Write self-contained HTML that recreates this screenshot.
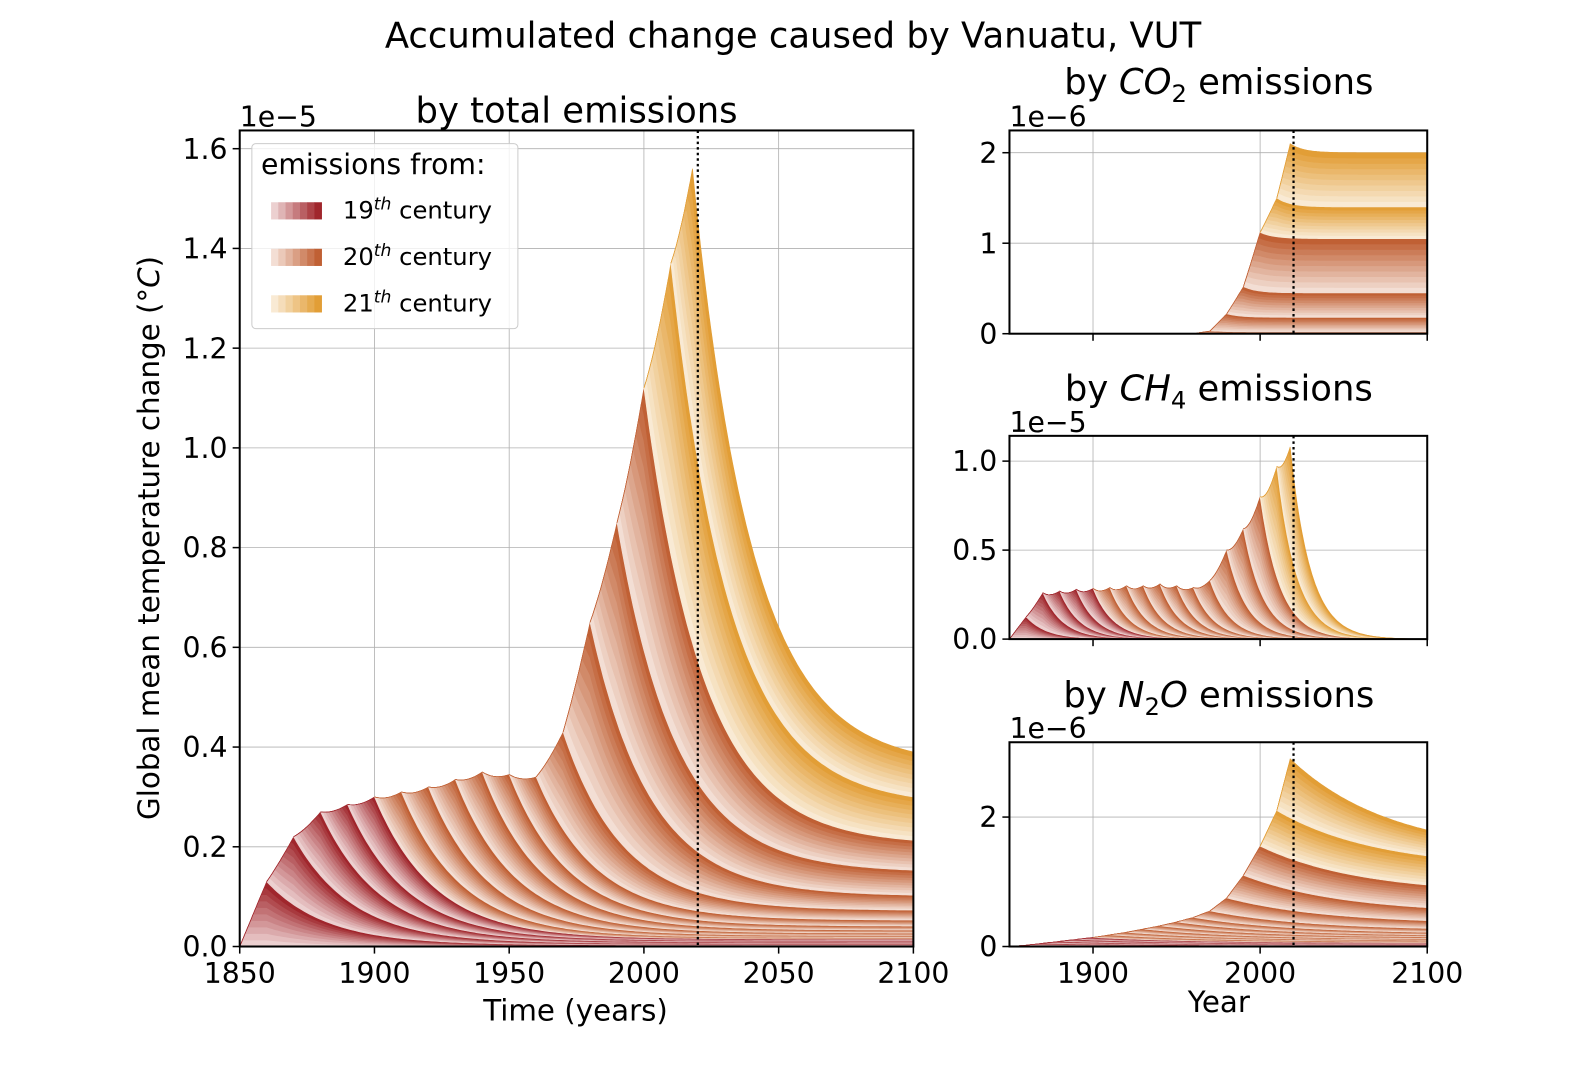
<!DOCTYPE html>
<html><head><meta charset="utf-8"><style>
html,body{margin:0;padding:0;background:#fff;overflow:hidden;width:1584px;height:1080px}
svg{display:block}
svg text{font-family:"DejaVu Sans","Liberation Sans",sans-serif;fill:#000}
</style></head><body>
<svg id="fig" width="1584" height="1080" viewBox="0 0 1566 1068" preserveAspectRatio="none" xmlns="http://www.w3.org/2000/svg">
<rect width="1584" height="1080" fill="#fff"/>
<text x="784" y="47" font-size="35" text-anchor="middle">Accumulated change caused by Vanuatu, VUT</text>
<text x="570" y="121" font-size="35" text-anchor="middle">by total emissions</text>
<text x="1205" y="93" font-size="35" text-anchor="middle">by <tspan font-style="italic">CO</tspan><tspan font-size="24" dy="8">2</tspan><tspan dy="-8"> emissions</tspan></text>
<text x="1205" y="396" font-size="35" text-anchor="middle">by <tspan font-style="italic">CH</tspan><tspan font-size="24" dy="8">4</tspan><tspan dy="-8"> emissions</tspan></text>
<text x="1205" y="699" font-size="35" text-anchor="middle">by <tspan font-style="italic">N</tspan><tspan font-size="24" dy="8">2</tspan><tspan dy="-8" font-style="italic">O</tspan> emissions</text>
<text transform="translate(157,532) rotate(-90)" font-size="29" text-anchor="middle">Global mean temperature change (°<tspan font-style="italic">C</tspan>)</text>
<text x="569" y="1009" font-size="29" text-anchor="middle">Time (years)</text>
<text x="1205" y="1001" font-size="29" text-anchor="middle">Year</text>
<g id="panels"></g>
<g id="legend"></g>
</svg>
<script>
// ---- data ----
const mainStarts=[1850,1860,1870,1880,1890,1900,1910,1920,1930,1940,1950,1960,1970,1980,1990,2000,2010];
const mainEnds=[1860,1870,1880,1890,1900,1910,1920,1930,1940,1950,1960,1970,1980,1990,2000,2010,2018];
const mainRidge=[0.13,0.22,0.27,0.285,0.30,0.31,0.32,0.335,0.35,0.345,0.34,0.43,0.65,0.85,1.12,1.37,1.56];
const mainTail=[0.003,0.006,0.009,0.012,0.015,0.018,0.022,0.027,0.033,0.041,0.053,0.073,0.103,0.153,0.213,0.30,0.39];
const co2Starts=[1960,1970,1980,1990,2000,2010];
const co2Ends=[1970,1980,1990,2000,2010,2018];
const co2Ridge=[0.03,0.22,0.52,1.12,1.5,2.1];
const co2Tail=[0.02,0.18,0.45,1.05,1.4,2.0];
const ch4Starts=mainStarts;
const ch4Ends=mainEnds;
const ch4Ridge=[0.125,0.26,0.27,0.28,0.285,0.29,0.30,0.30,0.31,0.30,0.29,0.33,0.50,0.62,0.80,0.97,1.08];
const ch4Tail=[0,0,0,0,0,0,0,0,0,0,0,0,0,0,0,0,0];
const n2oStarts=mainStarts;
const n2oEnds=mainEnds;
const n2oRidge=[0.02,0.05,0.08,0.11,0.14,0.18,0.22,0.27,0.32,0.38,0.45,0.55,0.75,1.1,1.55,2.1,2.9];
const n2oTail=[0.01,0.02,0.03,0.045,0.06,0.08,0.10,0.12,0.15,0.18,0.22,0.28,0.40,0.60,0.95,1.4,1.8];
const mainYTicks=[0,0.2,0.4,0.6,0.8,1.0,1.2,1.4,1.6];
const mainXTicks=[1850,1900,1950,2000,2050,2100];
const sideXTicks=[1900,2000,2100];

const NS="http://www.w3.org/2000/svg";
const root=document.getElementById('panels');
function mk(tag,attrs,parent){const e=document.createElementNS(NS,tag);for(const k in attrs)e.setAttribute(k,attrs[k]);(parent||root).appendChild(e);return e;}
const palettes=[[[236,208,208],[160,38,44]],[[243,222,212],[192,96,52]],[[249,234,212],[226,158,54]]];
function col(start,f){const p=palettes[start<1900?0:start<2000?1:2];const c=p[0].map((v,i)=>Math.round(v+(p[1][i]-v)*f));return `rgb(${c})`;}

function panel(cfg){
  const {x0,x1,top,bot,vmax,starts,ends,ridge,tail,tau,name,yTicks,yFmt,xLabels,offset}=cfg;
  const X=t=>x0+(t-1850)/250*(x1-x0);
  const Y=v=>bot-v/vmax*(bot-top);
  const g=mk('g',{});
  
  
  const cid='clip-'+name;
  const cp=mk('clipPath',{id:cid},g);mk('rect',{x:x0,y:top,width:x1-x0,height:bot-top},cp);
  const ticksX=xLabels==='main'?mainXTicks:sideXTicks;
  ticksX.forEach(t=>{const l=mk('line',{x1:X(t),x2:X(t),y1:top,y2:bot,stroke:'#b0b0b0','stroke-width':0.8},g);});
  yTicks.forEach(v=>{const l=mk('line',{x1:x0,x2:x1,y1:Y(v),y2:Y(v),stroke:'#b0b0b0','stroke-width':0.8},g);});
  const areas=mk('g',{'clip-path':`url(#${cid})`},g);
  
  
  const years=[];for(let t=1850;t<=2100;t++)years.push(t);
  let prev=years.map(()=>0);
  const K=10;
  for(let d=0;d<starts.length;d++){
    const s=starts[d],e=ends[d];
    const c0=Math.max(ridge[d]-prev[e-1850],0.002);
    const ct=tail[d]-(d?tail[d-1]:0);
    const den=1-Math.exp(-(2100-e)/tau);
    const D=t=>t<=e?c0:c0+(ct-c0)*(1-Math.exp(-(t-e)/tau))/den;
    const C=t=>t<s?0:(t<e?c0*(t-s)/(e-s):D(t));
    let lower=prev.slice();
    for(let k=1;k<=K;k++){
      const upper=years.map((t,i)=>prev[i]+Math.min(C(t),k/K*D(t)));
      let dstr='';
      for(let i=s-1850;i<years.length;i++)dstr+=(dstr?'L':'M')+X(years[i]).toFixed(1)+','+Y(upper[i]).toFixed(1);
      for(let i=years.length-1;i>=s-1850;i--)dstr+='L'+X(years[i]).toFixed(1)+','+Y(lower[i]).toFixed(1);
      const c=col(s,(k-1)/(K-1));
      const p=mk('path',{d:dstr+'Z',fill:c,stroke:c,'stroke-width':0.6},areas);
      
      
      lower=upper;
    }
    prev=lower;
  }
  const dl=mk('line',{x1:X(2020),x2:X(2020),y1:top,y2:bot,stroke:'#000','stroke-width':2.2,'stroke-dasharray':'2.5,3'},g);
  
  
  const fr=mk('rect',{x:x0,y:top,width:x1-x0,height:bot-top,fill:'none',stroke:'#000','stroke-width':2},g);
  
  
  yTicks.forEach(v=>{mk('line',{x1:x0-7,x2:x0,y1:Y(v),y2:Y(v),stroke:'#000','stroke-width':1.5},g);
    const tx=mk('text',{x:x0-12,y:Y(v)+10,'font-size':28,'text-anchor':'end'},g);tx.textContent=yFmt(v);
    });
  ticksX.forEach(t=>{mk('line',{x1:X(t),x2:X(t),y1:bot,y2:bot+7,stroke:'#000','stroke-width':1.5},g);
    if(xLabels){const tx=mk('text',{x:X(t),y:bot+36,'font-size':28,'text-anchor':'middle'},g);tx.textContent=t;
    }});
  const of=mk('text',{x:x0,y:top-4,'font-size':28},g);of.textContent=offset;
  
}
panel({x0:237,x1:903,top:129,bot:936,vmax:1.6366,starts:mainStarts,ends:mainEnds,ridge:mainRidge,tail:mainTail,tau:22,name:'total',yTicks:mainYTicks,yFmt:v=>v.toFixed(1),xLabels:'main',offset:'1e\u22125'});
panel({x0:998,x1:1411,top:129,bot:330,vmax:2.246,starts:co2Starts,ends:co2Ends,ridge:co2Ridge,tail:co2Tail,tau:8,name:'co2',yTicks:[0,1,2],yFmt:v=>v,xLabels:false,offset:'1e\u22126'});
panel({x0:998,x1:1411,top:431,bot:632,vmax:1.142,starts:ch4Starts,ends:ch4Ends,ridge:ch4Ridge,tail:ch4Tail,tau:12,name:'ch4',yTicks:[0,0.5,1.0],yFmt:v=>v.toFixed(1),xLabels:false,offset:'1e\u22125'});
panel({x0:998,x1:1411,top:734,bot:936,vmax:3.156,starts:n2oStarts,ends:n2oEnds,ridge:n2oRidge,tail:n2oTail,tau:60,name:'n2o',yTicks:[0,2],yFmt:v=>v,xLabels:'side',offset:'1e\u22126'});

// legend
const lg=document.getElementById('legend');
mk('rect',{x:249,y:142,width:263,height:183,rx:4,fill:'rgba(255,255,255,0.8)',stroke:'#ccc','stroke-width':1},lg);
const lt=mk('text',{x:258,y:172,'font-size':28},lg);lt.textContent='emissions from:';

[[1850,'19'],[1950,'20'],[2050,'21']].forEach((c,i)=>{
  const y=200+i*46;
  const eg=mk('g',{},lg);
  
  
  for(let j=0;j<7;j++)mk('rect',{x:268+j*50/7,y:y,width:50/7+0.3,height:17,fill:col(c[0],j/6)},eg);
  const t=mk('text',{x:339,y:y+16,'font-size':24},eg);
  t.innerHTML=c[1]+'<tspan font-size="17" dy="-9" font-style="italic">th</tspan><tspan dy="9"> century</tspan>';
});
</script>
</body></html>
